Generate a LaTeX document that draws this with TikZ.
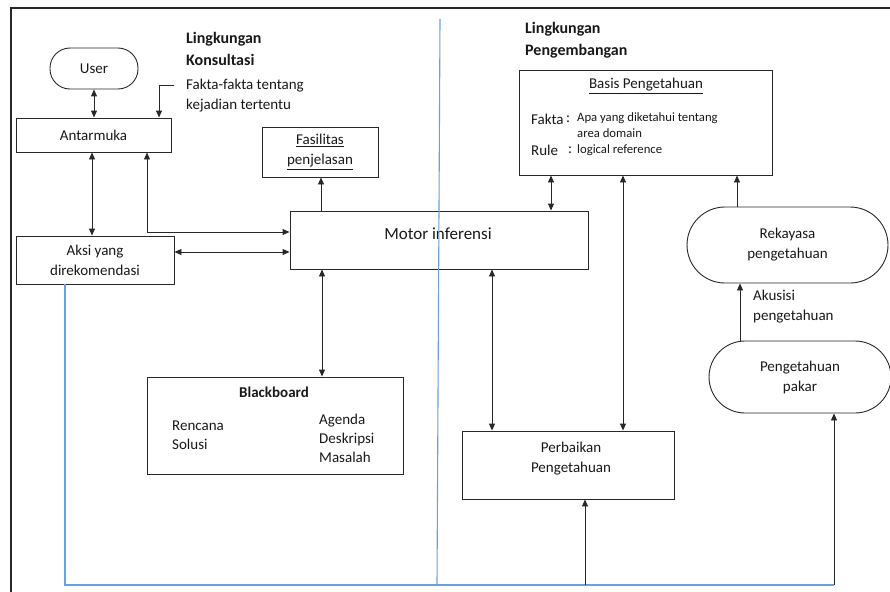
\documentclass[tikz,border=0pt]{standalone}
\usepackage{fontspec}
\setmainfont{Carlito}
\usetikzlibrary{arrows.meta}
\definecolor{lc}{RGB}{40,40,40}
\definecolor{tc}{RGB}{25,25,25}
\definecolor{bl}{RGB}{105,160,222}
\newcommand\myfs[2]{\fontsize{#1}{#2}\selectfont}
\begin{document}
\begin{tikzpicture}[x=1pt,y=-1pt,
  box/.style={draw=lc, line width=0.9pt, inner sep=0pt, align=center, text=tc, font=\myfs{15}{20}},
  stad/.style={box},
  txt/.style={inner sep=0pt, text=tc, font=\myfs{15}{20}, align=left},
  small/.style={inner sep=0pt, text=tc, font=\myfs{12.7}{16}, align=left},
  title/.style={inner sep=0pt, text=tc, font=\myfs{16}{21.5}\bfseries, align=left},
  conn/.style={draw=lc, line width=0.9pt},
  arr/.style={conn, -{Triangle[length=7pt,width=6pt]}},
  dbl/.style={conn, {Triangle[length=7pt,width=6pt]}-{Triangle[length=7pt,width=6pt]}},
  blue line/.style={draw=bl, line width=1.1pt}]
\useasboundingbox (0,0) rectangle (890,591);
\clip (0,0) rectangle (890,591);
\fill[white] (0,0) rectangle (890,591);
% frame
\draw[line width=1.3pt, draw=lc] (11,595) -- (11,8) -- (895,8);

% left side nodes
\node[stad, rounded corners=20pt, minimum width=88, minimum height=41] (user) at (94,68.5) {User};
\node[box, minimum width=155, minimum height=34] (ant) at (93.5,135) {Antarmuka};
\node[box, minimum width=158, minimum height=48] (aksi) at (95,260) {Aksi yang\\direkomendasi};
\node[box, minimum width=116, minimum height=50] (fas) at (320,152) {\underline{Fasilitas}\\\underline{penjelasan}};
\node[box, minimum width=298, minimum height=58] (mot) at (439,240) {};
\node[inner sep=0pt, text=tc, font=\myfs{17}{20}] (motl) at (438,234) {Motor inferensi};

% blackboard
\node[box, minimum width=256, minimum height=97] (bb) at (275,425.5) {};
\node[title, font=\myfs{15}{20}\bfseries] (bbt) at (274,392) {Blackboard};
\node[txt, font=\myfs{15}{19}, anchor=west] (rs) at (172,435) {Rencana\\Solusi};
\node[txt, font=\myfs{15}{19}, anchor=west] (adm) at (319,438) {Agenda\\Deskripsi\\Masalah};

% basis pengetahuan
\node[box, minimum width=253, minimum height=105] (kb) at (645.5,122.5) {};
\node[txt] (kbt) at (646,86) {\underline{Basis Pengetahuan}};
\node[txt, anchor=west] (fk) at (531,119) {Fakta};
\node[txt, anchor=west] (fkc) at (566,119) {:};
\node[small, anchor=west] (fkt) at (577,125) {Apa yang diketahui tentang\\area domain};
\node[txt, anchor=west] (ru) at (531,150) {Rule};
\node[txt, anchor=west] (ruc) at (568,150) {:};
\node[small, anchor=west] (rut) at (577,150) {logical reference};

% right nodes
\node[stad, rounded corners=38pt, minimum width=201, minimum height=76] (rek) at (787.5,245) {Rekayasa\\pengetahuan};
\node[stad, rounded corners=36pt, minimum width=182, minimum height=72] (pak) at (800,377) {Pengetahuan\\pakar};
\node[box, minimum width=212, minimum height=68] (perb) at (568,465) {};
\node[txt, align=center] (perbl) at (571,459) {Perbaikan\\Pengetahuan};

% labels
\node[title, anchor=west] (lk) at (186,49) {Lingkungan\\Konsultasi};
\node[txt, anchor=west] (fakta) at (186,96) {Fakta-fakta tentang\\kejadian tertentu};
\node[title, anchor=west] (lp) at (525,40) {Lingkungan\\Pengembangan};
\node[txt, anchor=west] (aku) at (753,307) {Akusisi\\pengetahuan};

% blue lines
\coordinate (b1) at (585,585);
\coordinate (b2) at (834,585);
\draw[blue line] (440,19) -- (437,585);
\draw[blue line] (65,0 |- aksi.south) -- (65,585) -- (b2);

% connectors
\draw[dbl] (94,0 |- user.south) -- (94,0 |- ant.north);
\coordinate (fk0) at (174,85);
\draw[arr] (fk0) -- (159,85) -- (159,0 |- ant.north);
\draw[dbl] (92,0 |- ant.south) -- (92,0 |- aksi.north);
\draw[dbl] (147,0 |- ant.south) -- (147,232) -- (mot.west |- 0,232);
\draw[dbl] (aksi.east |- 0,252) -- (mot.west |- 0,252);
\draw[arr] (321,0 |- mot.north) -- (321,0 |- fas.south);
\draw[dbl] (322,0 |- mot.south) -- (322,0 |- bb.north);
\draw[dbl] (551,0 |- mot.north) -- (551,0 |- kb.south);
\draw[dbl] (492,0 |- mot.south) -- (492,0 |- perb.north);
\draw[dbl] (623,0 |- kb.south) -- (623,0 |- perb.north);
\draw[arr] (737,0 |- rek.north) -- (737,0 |- kb.south);
\draw[arr] (740,0 |- pak.north) -- (740,0 |- rek.south);
\draw[arr] (b1) -- (b1 |- perb.south);
\draw[arr] (b2) -- (b2 |- pak.south);
\end{tikzpicture}
\end{document}
